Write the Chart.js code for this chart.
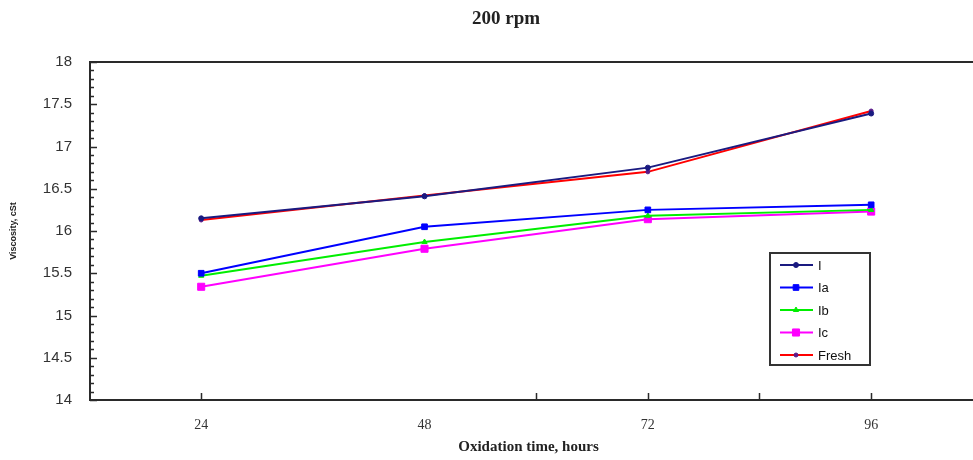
<!DOCTYPE html>
<html lang="en">
<head>
  <meta charset="UTF-8">
  <title>200 rpm</title>
  <script src="https://cdn.jsdelivr.net/npm/chart.js"></script>
  <style>
    html, body { margin: 0; padding: 0; background: #fff; }
  </style>
</head>
<body>
  <canvas id="chartCanvas" width="973" height="460"></canvas>

  <script>
    // data
    const hours = [24, 48, 72, 96];
    const seriesI = [16.15, 16.41, 16.75, 17.39];
    const seriesIa = [15.50, 16.05, 16.25, 16.31];
    const seriesIb = [15.47, 15.87, 16.18, 16.25];
    const seriesIc = [15.34, 15.79, 16.14, 16.23];
    const seriesFresh = [16.13, 16.42, 16.70, 17.42];
    const seriesNames = ['I', 'Ia', 'Ib', 'Ic', 'Fresh'];
    const yTicks = [14, 14.5, 15, 15.5, 16, 16.5, 17, 17.5, 18];
    const xTickMarks = [24, 60, 72, 84, 96];
    const chartTitle = '200 rpm';

    const serif = '"Liberation Serif", "Times New Roman", serif';
    const sans = '"Liberation Sans", Arial, sans-serif';

    const toPoints = vals => vals.map((v, i) => ({ x: hours[i], y: v }));

    function makeSet(label, vals, color, style, radius, pointColor) {
      return {
        label: label,
        data: toPoints(vals),
        borderColor: color,
        backgroundColor: pointColor || color,
        borderWidth: 2,
        pointStyle: style,
        pointRadius: radius,
        pointBackgroundColor: pointColor || color,
        pointBorderColor: pointColor || color,
        pointBorderWidth: 1,
        tension: 0
      };
    }

    // title, axis frame and inward tick marks
    const framePlugin = {
      id: 'frame',
      afterDraw(chart) {
        const { ctx, chartArea: a, scales } = chart;
        ctx.save();
        ctx.fillStyle = '#222';
        ctx.font = 'bold 19px ' + serif;
        ctx.textAlign = 'center';
        ctx.textBaseline = 'middle';
        ctx.fillText(chartTitle, 506, 19);

        ctx.strokeStyle = '#2a2a2a';
        ctx.lineWidth = 2;
        ctx.beginPath();
        ctx.moveTo(chart.width, a.top);
        ctx.lineTo(a.left, a.top);
        ctx.lineTo(a.left, a.bottom);
        ctx.lineTo(chart.width, a.bottom);
        ctx.stroke();

        ctx.lineWidth = 1.5;
        ctx.beginPath();
        for (let k = 0; k <= 40; k++) {
          const v = 14 + k * 0.1;
          const y = Math.round(scales.y.getPixelForValue(v)) + 0.5;
          const len = (k % 5 === 0) ? 7 : 4;
          ctx.moveTo(a.left, y);
          ctx.lineTo(a.left + len, y);
        }
        xTickMarks.forEach(v => {
          const x = Math.round(scales.x.getPixelForValue(v)) + 0.5;
          ctx.moveTo(x, a.bottom);
          ctx.lineTo(x, a.bottom - 7);
        });
        ctx.stroke();
        ctx.restore();
      }
    };

    // boxed legend inside the plot
    const legendBox = {
      id: 'legendBox',
      afterDatasetsDraw(chart) {
        const ctx = chart.ctx;
        const bx = 770, by = 253, bw = 100, bh = 112;
        ctx.save();
        ctx.fillStyle = '#fff';
        ctx.fillRect(bx, by, bw, bh);
        ctx.strokeStyle = '#333';
        ctx.lineWidth = 2;
        ctx.strokeRect(bx, by, bw, bh);
        chart.data.datasets.forEach((ds, i) => {
          const y = by + 12 + i * 22.5;
          ctx.strokeStyle = ds.borderColor;
          ctx.lineWidth = 2;
          ctx.beginPath();
          ctx.moveTo(bx + 10, y);
          ctx.lineTo(bx + 43, y);
          ctx.stroke();
          ctx.fillStyle = ds.pointBackgroundColor;
          ctx.strokeStyle = ds.pointBorderColor;
          ctx.lineWidth = 1;
          Chart.helpers.drawPoint(ctx, {
            pointStyle: ds.pointStyle, radius: ds.pointRadius, borderWidth: 1, rotation: 0
          }, bx + 26, y);
          ctx.fillStyle = '#111';
          ctx.font = '13px ' + sans;
          ctx.textBaseline = 'middle';
          ctx.fillText(ds.label, bx + 48, y + 1);
        });
        ctx.restore();
      }
    };

    new Chart(document.getElementById('chartCanvas'), {
      type: 'line',
      data: {
        datasets: [
          makeSet(seriesNames[0], seriesI, '#1a1a80', 'circle', 2.5),
          makeSet(seriesNames[1], seriesIa, '#0000ff', 'rect', 4),
          makeSet(seriesNames[2], seriesIb, '#00ee00', 'triangle', 3),
          makeSet(seriesNames[3], seriesIc, '#ff00ff', 'rect', 5),
          makeSet(seriesNames[4], seriesFresh, '#ff0000', 'circle', 2, '#5a1a8a')
        ]
      },
      options: {
        responsive: false,
        animation: false,
        layout: { padding: { left: 0, right: 0, top: 62, bottom: 0 } },
        plugins: {
          legend: { display: false },
          tooltip: { enabled: false },
          title: { display: false }
        },
        scales: {
          x: {
            type: 'linear',
            min: 12.05,
            max: 106.3,
            afterBuildTicks: scale => { scale.ticks = hours.map(v => ({ value: v })); },
            afterFit: scale => { scale.height = 60; },
            grid: { display: false, drawTicks: false },
            border: { display: false },
            ticks: {
              color: '#333',
              padding: 17,
              font: { family: serif, size: 14 }
            },
            title: {
              display: true,
              text: 'Oxidation time, hours',
              color: '#222',
              font: { family: serif, size: 15, weight: 'bold' },
              padding: { top: 0, bottom: 4 }
            }
          },
          y: {
            min: 14,
            max: 18,
            afterBuildTicks: scale => { scale.ticks = yTicks.map(v => ({ value: v })); },
            afterFit: scale => { scale.width = 90; },
            grid: { display: false, drawTicks: false },
            border: { display: false },
            ticks: {
              color: '#333',
              padding: 18,
              font: { family: sans, size: 15 },
              callback: v => String(v)
            },
            title: {
              display: true,
              text: 'Viscosity, cSt',
              color: '#222',
              font: { family: sans, size: 9, weight: 'bold' },
              padding: { top: 8, bottom: 0 }
            }
          }
        }
      },
      plugins: [framePlugin, legendBox]
    });
  </script>
</body>
</html>
